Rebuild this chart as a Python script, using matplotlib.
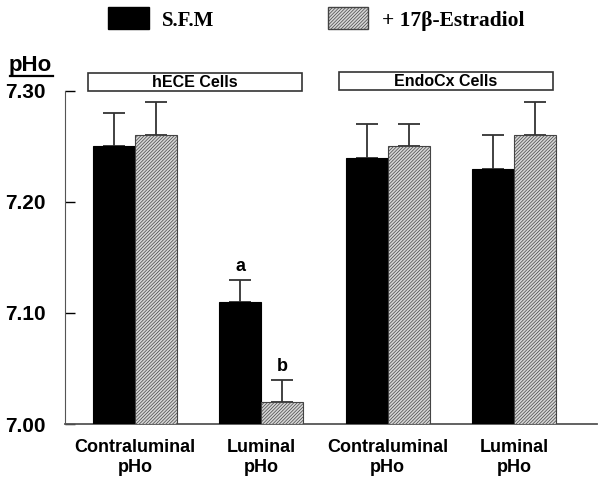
import numpy as np
import matplotlib.pyplot as plt
from matplotlib.patches import Rectangle

plt.rcParams['hatch.linewidth'] = 0.5
plt.rcParams['hatch.color'] = '#707070'

groups = ['Contraluminal\npHo', 'Luminal\npHo', 'Contraluminal\npHo', 'Luminal\npHo']
sfm = [7.25, 7.11, 7.24, 7.23]
sfm_err = [0.03, 0.02, 0.03, 0.03]
estr = [7.26, 7.02, 7.25, 7.26]
estr_err = [0.03, 0.02, 0.02, 0.03]
sig = ['', 'a', '', '']
sig2 = ['', 'b', '', '']

W, H = 603, 482
fig = plt.figure(figsize=(W / 100, H / 100), dpi=100)
ax = fig.add_axes([65 / W, 1 - 424 / H, (597 - 65) / W, (424 - 91) / H])

x = np.arange(len(groups))
bw = 0.333
base = 7.0
hfill = '#d6d6d6'
hatch = '//////////'
b1 = ax.bar(x - bw / 2, np.array(sfm) - base, bw, bottom=base, color='black',
            edgecolor='black', linewidth=0.8, zorder=3)
b2 = ax.bar(x + bw / 2, np.array(estr) - base, bw, bottom=base, color=hfill,
            edgecolor='#444444', linewidth=0.8, hatch=hatch, zorder=3)
ax.errorbar(x - bw / 2, sfm, yerr=[np.zeros(4), sfm_err], fmt='none',
            ecolor='#333333', elinewidth=1.3, capsize=7.6, capthick=1.3, zorder=2)
ax.errorbar(x + bw / 2, estr, yerr=[np.zeros(4), estr_err], fmt='none',
            ecolor='#333333', elinewidth=1.3, capsize=7.6, capthick=1.3, zorder=2)

for i in range(4):
    if sig[i]:
        ax.text(x[i] - bw / 2, sfm[i] + sfm_err[i] + 0.004, sig[i], ha='center',
                va='bottom', fontsize=13, fontweight='bold', family='Liberation Sans')
    if sig2[i]:
        ax.text(x[i] + bw / 2, estr[i] + estr_err[i] + 0.004, sig2[i], ha='center',
                va='bottom', fontsize=13, fontweight='bold', family='Liberation Sans')

ax.set_xlim(-0.554, 3.658)
ax.set_ylim(7.0, 7.30)
ax.set_yticks([7.0, 7.1, 7.2, 7.3])
ax.set_yticklabels(['7.00', '7.10', '7.20', '7.30'], fontsize=15,
                   fontweight='bold', family='Liberation Sans')
ax.tick_params(axis='y', direction='in', length=7, width=1, pad=14)
ax.set_xticks(x)
ax.set_xticklabels(groups, fontsize=13, fontweight='bold',
                   family='Liberation Sans', linespacing=1.2)
ax.tick_params(axis='x', length=0, pad=11)
for s in ['top', 'right']:
    ax.spines[s].set_visible(False)
ax.spines['left'].set_color('#555555')
ax.spines['bottom'].set_color('#555555')
ax.spines['bottom'].set_linewidth(1.3)

# y axis title
fig.text(9 / W, 1 - 65 / H, 'pHo', fontsize=16, fontweight='bold',
         family='Liberation Sans', va='center', ha='left')
fig.add_artist(plt.Line2D([10 / W, 53 / W], [1 - 76 / H, 1 - 76 / H],
                          color='black', lw=1.6))

# cell type boxes
for (x0, x1, y0, y1, lab) in [(88, 302, 73, 91, 'hECE Cells'),
                              (339, 553, 72, 90, 'EndoCx Cells')]:
    fig.add_artist(Rectangle((x0 / W, 1 - y1 / H), (x1 - x0) / W, (y1 - y0) / H,
                             transform=fig.transFigure, facecolor='white',
                             edgecolor='#333333', lw=1.2))
    fig.text((x0 + x1) / 2 / W, 1 - (y0 + y1) / 2 / H, lab, ha='center',
             va='center', fontsize=11.5, fontweight='bold', family='Liberation Sans')

# legend
fig.add_artist(Rectangle((108 / W, 1 - 29 / H), 41 / W, 22 / H,
                         transform=fig.transFigure, facecolor='black',
                         edgecolor='black'))
fig.text(162 / W, 1 - 21 / H, 'S.F.M', fontsize=15, fontweight='bold',
         family='Liberation Serif', va='center')
fig.add_artist(Rectangle((328 / W, 1 - 29 / H), 40 / W, 22 / H,
                         transform=fig.transFigure, facecolor=hfill,
                         edgecolor='#444444', hatch=hatch))
fig.text(382 / W, 1 - 21 / H, '+ 17β-Estradiol', fontsize=15.5, fontweight='bold',
         family='Liberation Serif', va='center')

fig.savefig('out.png', dpi=100)
